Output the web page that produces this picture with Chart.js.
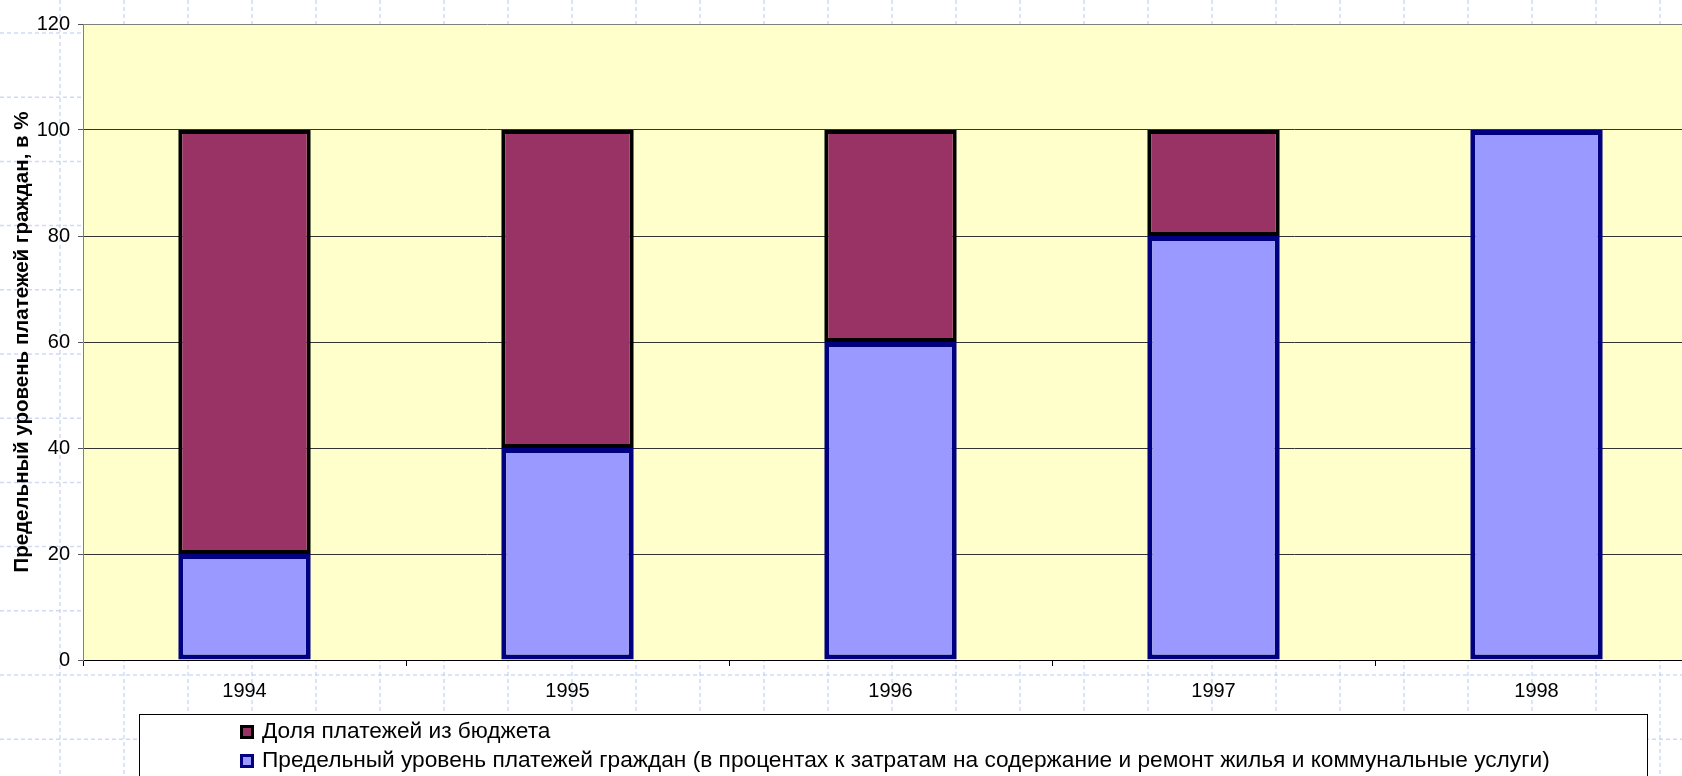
<!DOCTYPE html>
<html>
<head>
<meta charset="utf-8">
<script src="https://cdn.jsdelivr.net/npm/chart.js@4.4.1/dist/chart.umd.min.js"></script>
<style>
  html, body { margin: 0; padding: 0; background: #fff; overflow: hidden; }
  #wrap { width: 1700px; height: 776px; }
</style>
</head>
<body>
<div id="wrap"><canvas id="myChart" width="1700" height="776"></canvas></div>
<script>
const ctx = document.getElementById('myChart');

const years = ['1994', '1995', '1996', '1997', '1998'];
const citizenShare = [20, 40, 60, 80, 100];
const budgetShare = [80, 60, 40, 20, 0];
const citizenLabel = 'Предельный уровень платежей граждан (в процентах к затратам на содержание и ремонт жилья и коммунальные услуги)';
const budgetLabel = 'Доля платежей из бюджета';
const yTitle = 'Предельный уровень платежей граждан, в %';

const FONT = 'Arial, "Liberation Sans", sans-serif';

// slide background + yellow plot area
const backdrop = {
  id: 'backdrop',
  beforeDraw(chart) {
    const c = chart.ctx;
    const a = chart.chartArea;
    c.save();
    c.fillStyle = '#fff';
    c.fillRect(0, 0, chart.width, chart.height);
    c.strokeStyle = 'rgba(185,202,242,0.7)';
    c.lineWidth = 1.5;
    c.setLineDash([4, 3]);
    for (let x = -4; x < chart.width; x += 64) {
      c.beginPath(); c.moveTo(x, 0); c.lineTo(x, chart.height); c.stroke();
    }
    for (let y = 33; y < chart.height; y += 64.2) {
      c.beginPath(); c.moveTo(0, y); c.lineTo(chart.width, y); c.stroke();
    }
    c.setLineDash([]);
    c.fillStyle = '#FFFFCC';
    c.fillRect(a.left, a.top, a.right - a.left, a.bottom - a.top);
    c.restore();
  }
};

// boxed legend under the axis, items listed top to bottom
const legendBox = {
  id: 'legendBox',
  afterDraw(chart) {
    const c = chart.ctx;
    c.save();
    c.fillStyle = '#fff';
    c.fillRect(139, 714, 1508, 80);
    c.strokeStyle = '#000';
    c.lineWidth = 1;
    c.strokeRect(139.5, 714.5, 1508, 80);
    const items = chart.data.datasets.slice().reverse();
    const rows = [732, 761];
    c.font = '22.7px ' + FONT;
    c.textBaseline = 'middle';
    items.forEach((ds, i) => {
      const y = rows[i];
      c.fillStyle = ds.borderColor;
      c.fillRect(240, y - 7, 14, 14);
      c.fillStyle = ds.backgroundColor;
      c.fillRect(243, y - 4, 8, 8);
      c.fillStyle = '#000';
      c.fillText(ds.label, 262, y);
    });
    c.restore();
  }
};

const data = {
  labels: years,
  datasets: [{
    label: citizenLabel,
    data: citizenShare,
    backgroundColor: '#9999FF',
    borderColor: '#000080',
    borderWidth: 5,
    borderSkipped: false
  }, {
    label: budgetLabel,
    data: budgetShare,
    backgroundColor: '#993366',
    borderColor: '#000000',
    borderWidth: 4,
    borderSkipped: false
  }]
};

const config = {
  type: 'bar',
  data: data,
  plugins: [backdrop, legendBox],
  options: {
    responsive: false,
    animation: false,
    layout: { padding: { top: 24, right: 2, bottom: 0, left: 0 } },
    datasets: { bar: { barPercentage: 0.41, categoryPercentage: 1 } },
    plugins: { legend: { display: false }, tooltip: { enabled: false } },
    scales: {
      x: {
        stacked: true,
        afterFit(scale) { scale.height = 116; },
        border: { color: '#000', width: 1 },
        grid: { drawOnChartArea: false, tickLength: 6, color: '#000' },
        ticks: { color: '#000', font: { family: FONT, size: 20 }, padding: 13, maxRotation: 0 }
      },
      y: {
        stacked: true,
        min: 0,
        max: 120,
        afterFit(scale) { scale.width = 83; },
        border: { color: '#808080', width: 1 },
        grid: {
          color: (c) => c.tick && c.tick.value === 120 ? '#808080' : '#333',
          tickColor: '#555',
          tickLength: 5
        },
        ticks: { stepSize: 20, color: '#000', font: { family: FONT, size: 20 }, padding: 8 },
        title: {
          display: true,
          text: yTitle,
          color: '#000',
          font: { family: FONT, size: 20.5, weight: 'bold' },
          padding: { top: 10, bottom: 0 }
        }
      }
    }
  }
};
new Chart(ctx, config);
</script>
</body>
</html>
